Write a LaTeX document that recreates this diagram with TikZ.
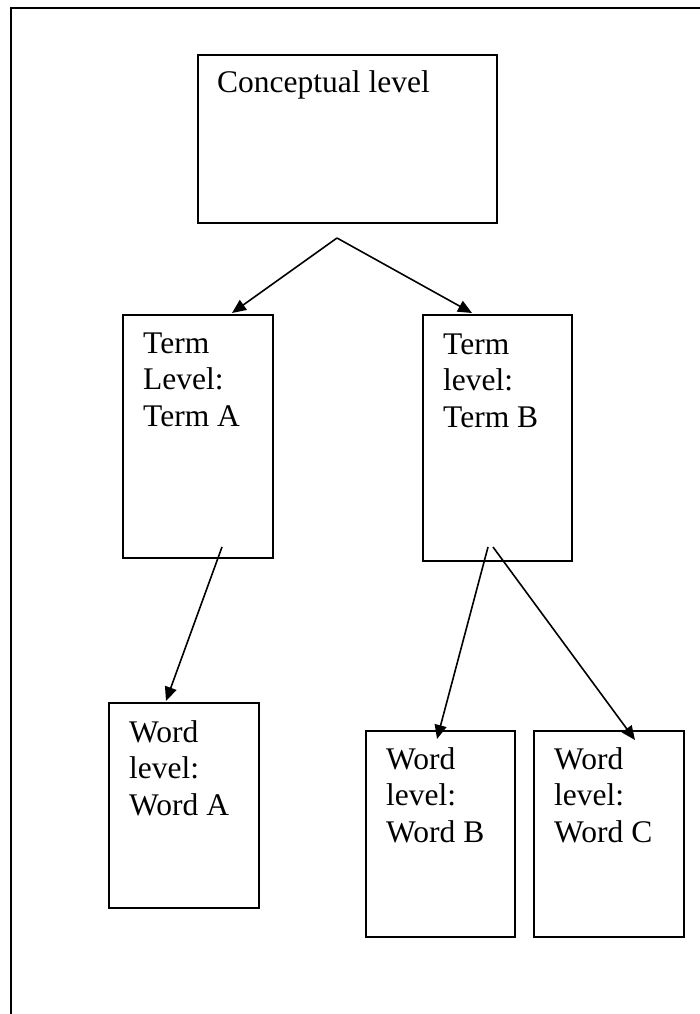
\documentclass[tikz,border=0pt]{standalone}
\usepackage{fontspec}
\setmainfont{Liberation Serif}
\usetikzlibrary{arrows.meta,calc}
\begin{document}
\begin{tikzpicture}[x=1pt,y=-1pt,
  box/.style={draw, line width=2pt, rectangle, anchor=north west, inner sep=0pt},
  lbl/.style={anchor=base west, inner sep=0pt, font=\fontsize{31.5}{36.7}\selectfont},
  arr/.style={line width=1.6pt, -{Triangle[length=14pt,width=12pt]}},
  frame/.style={line width=2.4pt}]
\useasboundingbox (0,0) rectangle (700,1014);

% page frame (left and top edges)
\draw[frame] (11,1014) -- (11,8) -- (700,8);

% boxes
\node[box, minimum width=299pt, minimum height=168pt] (concept) at (197,54) {};
\node[box, minimum width=150pt, minimum height=243pt] (termA) at (122,314) {};
\node[box, minimum width=149pt, minimum height=246pt] (termB) at (422,314) {};
\node[box, minimum width=150pt, minimum height=205pt] (wordA) at (108,702) {};
\node[box, minimum width=149pt, minimum height=206pt] (wordB) at (365,730) {};
\node[box, minimum width=150pt, minimum height=206pt] (wordC) at (533,730) {};

% box texts
\node[lbl] (conceptText) at (217,93) {Conceptual level};
\node[lbl] (termAText) at (143,353) {\begin{tabular}[t]{@{}l@{}}Term\\Level:\\Term A\end{tabular}};
\node[lbl] (termBText) at (443,354) {\begin{tabular}[t]{@{}l@{}}Term\\level:\\Term B\end{tabular}};
\node[lbl] (wordAText) at (129,742) {\begin{tabular}[t]{@{}l@{}}Word\\level:\\Word A\end{tabular}};
\node[lbl] (wordBText) at (386,769) {\begin{tabular}[t]{@{}l@{}}Word\\level:\\Word B\end{tabular}};
\node[lbl] (wordCText) at (554,769) {\begin{tabular}[t]{@{}l@{}}Word\\level:\\Word C\end{tabular}};

% connectors
\coordinate (split) at ($(concept.south west)+(140,14)$);
\draw[arr] (split) -- ($(termA.north west)+(110,-1)$);
\draw[arr] (split) -- ($(termB.north west)+(50,-1)$);
\draw[arr] ($(termA.north west)+(100,233)$) -- ($(wordA.north west)+(58,-1)$);
\draw[arr] ($(termB.north west)+(66,233)$) -- ($(wordB.north west)+(72,9)$);
\draw[arr] ($(termB.north west)+(71,233)$) -- ($(wordC.north west)+(102,10)$);
\end{tikzpicture}
\end{document}
